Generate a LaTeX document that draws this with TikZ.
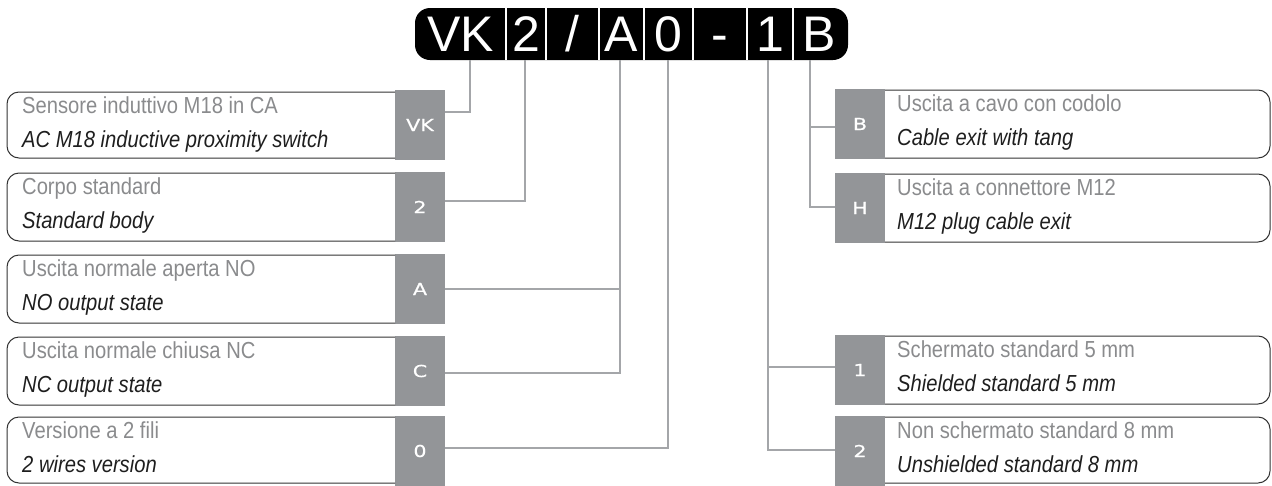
\documentclass[tikz,border=0pt]{standalone}
\usepackage{fontspec}
\setmainfont[FakeStretch=0.87]{Liberation Sans}
\newfontfamily\hdfont{Liberation Sans}
\newfontfamily\sqfont[FakeStretch=1.25,FakeBold=0.6]{DejaVu Sans}
\definecolor{sqgrey}{HTML}{939598}
\definecolor{lngrey}{HTML}{A4A6A9}
\definecolor{itgrey}{HTML}{8A8B8D}
\definecolor{engtxt}{HTML}{1E1E1E}
\definecolor{bdr}{HTML}{333333}
\tikzset{
  seg/.style={inner sep=0pt, minimum height=52pt, text=white, font=\hdfont\fontsize{50}{50}\selectfont, text height=35.5pt, text depth=0pt},
  sq/.style={fill=sqgrey, inner sep=0pt, minimum width=50pt, minimum height=70pt, text=white, font=\sqfont\fontsize{16.5}{16.5}\selectfont},
  conn/.style={draw=lngrey, line width=1.8pt},
  bx/.style={draw=bdr, line width=1pt, rounded corners=12pt},
  ita/.style={anchor=base west, inner sep=0pt, text=itgrey, font=\fontsize{23.2}{23.2}\selectfont},
  eng/.style={anchor=base west, inner sep=0pt, text=engtxt, font=\itshape\fontsize{23.2}{23.2}\selectfont},
}
\begin{document}
\begin{tikzpicture}[x=1pt,y=-1pt]
\useasboundingbox (0,0) rectangle (1272,485);
% header bar
\fill[black, rounded corners=15pt] (415,8) rectangle (848,60);
\node[seg, minimum width=91pt] (sVK) at (460.5,34) {VK};
\node[seg, minimum width=40pt] (s2) at (526,34) {2};
\node[seg, minimum width=53pt] (sSl) at (572.5,34) {/};
\node[seg, minimum width=45pt] (sA) at (621.5,34) {A};
\node[seg, minimum width=49pt] (s0) at (668.5,34) {0};
\node[seg, minimum width=54pt] (sDa) at (720,34) {-};
\node[seg, minimum width=46pt] (s1) at (770,34) {1};
\node[seg, minimum width=55pt] (sB) at (819,34) {B};
\foreach \x in {506,546,599,644,693,747,793}
  \draw[white, line width=2pt] (\x,8) -- (\x,60);
% left grey squares
\node[sq] (lVK) at (420,125) {VK};
\node[sq] (l2) at (420,207) {2};
\node[sq] (lA) at (420,289) {A};
\node[sq] (lC) at (420,371) {C};
\node[sq] (l0) at (420,451) {0};
% right grey squares
\node[sq] (rB) at (860,124) {B};
\node[sq] (rH) at (860,208) {H};
\node[sq] (r1) at (860,370) {1};
\node[sq] (r2) at (860,451) {2};
% left boxes
\draw[bx] (395,92) -- (7,92) -- (7,158) -- (395,158);
\draw[bx] (395,173) -- (7,173) -- (7,241) -- (395,241);
\draw[bx] (395,255) -- (7,255) -- (7,323) -- (395,323);
\draw[bx] (395,337) -- (7,337) -- (7,405) -- (395,405);
\draw[bx] (395,417) -- (7,417) -- (7,483) -- (395,483);
% right boxes
\draw[bx] (885,90) -- (1270,90) -- (1270,158) -- (885,158);
\draw[bx] (885,174) -- (1270,174) -- (1270,242) -- (885,242);
\draw[bx] (885,336) -- (1270,336) -- (1270,404) -- (885,404);
\draw[bx] (885,417) -- (1270,417) -- (1270,483) -- (885,483);
% left texts
\node[ita] (tVKa) at (22,113) {Sensore induttivo M18 in CA};
\node[eng] (tVKb) at (22,147) {AC M18 inductive proximity switch};
\node[ita] (t2a) at (22,194) {Corpo standard};
\node[eng] (t2b) at (22,228) {Standard body};
\node[ita] (tAa) at (22,276) {Uscita normale aperta NO};
\node[eng] (tAb) at (22,310) {NO output state};
\node[ita] (tCa) at (22,358) {Uscita normale chiusa NC};
\node[eng] (tCb) at (22,392) {NC output state};
\node[ita] (t0a) at (22,438) {Versione a 2 fili};
\node[eng] (t0b) at (22,472) {2 wires version};
% right texts
\node[ita] (tBa) at (897,111) {Uscita a cavo con codolo};
\node[eng] (tBb) at (897,145) {Cable exit with tang};
\node[ita] (tHa) at (897,195) {Uscita a connettore M12};
\node[eng] (tHb) at (897,229) {M12 plug cable exit};
\node[ita] (t1a) at (897,357) {Schermato standard 5 mm};
\node[eng] (t1b) at (897,391) {Shielded standard 5 mm};
\node[ita] (t2ra) at (897,438) {Non schermato standard 8 mm};
\node[eng] (t2rb) at (897,472) {Unshielded standard 8 mm};
% connectors
\draw[conn] ([xshift=9.5pt]sVK.south) |- ([yshift=13pt]lVK.east);
\draw[conn] ([xshift=-1pt]s2.south) |- ([yshift=6pt]l2.east);
\draw[conn] ([xshift=-1.5pt]sA.south) |- ([yshift=-2pt]lC.east);
\draw[conn] ([xshift=-1.5pt]sA.south |- lA.east) -- (lA.east);
\draw[conn] ([xshift=-0.5pt]s0.south) |- ([yshift=3pt]l0.east);
\draw[conn] ([xshift=-2pt]s1.south) |- ([yshift=1pt]r2.west);
\draw[conn] ([xshift=-2pt]s1.south |- 0,367) -- (r1.west |- 0,367);
\draw[conn] ([xshift=-9pt]sB.south) |- ([yshift=1pt]rH.west);
\draw[conn] ([xshift=-9pt]sB.south |- 0,127) -- (rB.west |- 0,127);
\end{tikzpicture}
\end{document}
